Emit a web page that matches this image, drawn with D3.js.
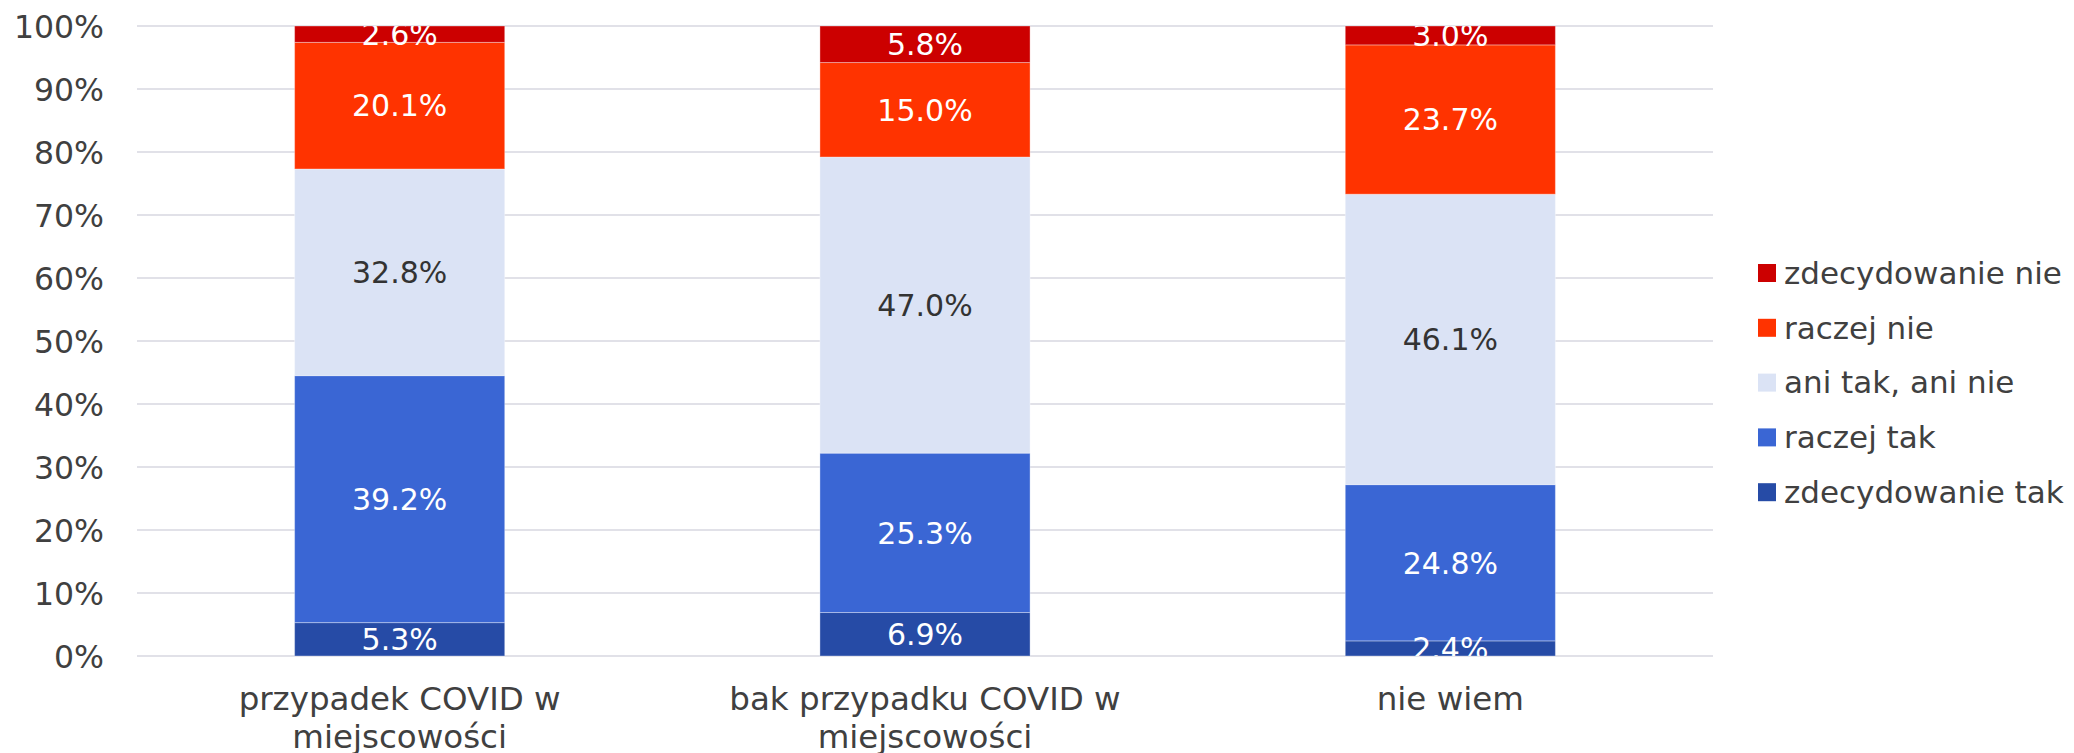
<!DOCTYPE html>
<html><head><meta charset="utf-8">
<script src="https://cdn.jsdelivr.net/npm/d3@7"></script>
<style>html,body{margin:0;padding:0;background:#fff;}svg{display:block;}</style>
</head><body>
<svg id="chart" width="2074" height="753"></svg>
<script>
const categories = ["przypadek COVID w miejscowości", "bak przypadku COVID w miejscowości", "nie wiem"];
const categoryLines = [["przypadek COVID w", "miejscowości"], ["bak przypadku COVID w", "miejscowości"], ["nie wiem"]];
const seriesNames = ["zdecydowanie tak", "raczej tak", "ani tak, ani nie", "raczej nie", "zdecydowanie nie"];
const zdecydowanieTak = [5.3, 6.9, 2.4];
const raczejTak = [39.2, 25.3, 24.8];
const aniTakAniNie = [32.8, 47.0, 46.1];
const raczejNie = [20.1, 15.0, 23.7];
const zdecydowanieNie = [2.6, 5.8, 3.0];
const seriesValues = [zdecydowanieTak, raczejTak, aniTakAniNie, raczejNie, zdecydowanieNie];
const yTicks = [0, 10, 20, 30, 40, 50, 60, 70, 80, 90, 100];

const colors = ["#264BA6", "#3A66D4", "#DBE3F5", "#FF3300", "#CC0000"];
const labelColors = ["#ffffff", "#ffffff", "#333333", "#ffffff", "#ffffff"];

const svg = d3.select("#chart");
const plotLeft = 137, plotRight = 1713, plotTop = 26, plotBottom = 656;
const fontFamily = "'DejaVu Sans', Verdana, sans-serif";

const x = d3.scaleBand().domain(categories).range([plotLeft, plotRight]).paddingInner(0.6).paddingOuter(0.3);
const y = d3.scaleLinear().domain([0, 100]).range([plotBottom, plotTop]);

// grid
svg.append("g").selectAll("line").data(yTicks).join("line")
  .attr("x1", plotLeft).attr("x2", plotRight)
  .attr("y1", d => y(d)).attr("y2", d => y(d))
  .attr("stroke", "#E1E1E8").attr("stroke-width", 2);

// y axis labels
const yAxis = d3.axisLeft(y).tickValues(yTicks).tickFormat(d => d + "%").tickSize(0).tickPadding(0);
const ya = svg.append("g").attr("transform", `translate(104,0)`).call(yAxis);
ya.select(".domain").remove();
ya.selectAll("text").attr("font-size", 31.5).attr("font-family", fontFamily).attr("fill", "#404040").attr("dy", "0.35em");

// stack data
const table = categories.map((c, i) => {
  const o = { cat: c };
  seriesNames.forEach((s, j) => o[s] = seriesValues[j][i]);
  return o;
});
const stack = d3.stack().keys(seriesNames)(table);

svg.append("defs").append("clipPath").attr("id", "plotclip")
  .append("rect").attr("x", plotLeft).attr("y", plotTop).attr("width", plotRight - plotLeft).attr("height", plotBottom - plotTop);

const groups = svg.append("g").selectAll("g").data(stack).join("g");
groups.selectAll("rect").data((d, j) => d.map(p => ({ p, j }))).join("rect")
  .attr("x", d => x(d.p.data.cat))
  .attr("width", x.bandwidth())
  .attr("y", d => y(d.p[1]))
  .attr("height", d => y(d.p[0]) - y(d.p[1]))
  .attr("fill", d => colors[d.j])
  .attr("stroke", "rgba(255,255,255,0.35)").attr("stroke-width", 1);

const labels = svg.append("g").attr("clip-path", "url(#plotclip)");
stack.forEach((layer, j) => {
  labels.selectAll(null).data(layer).join("text")
    .attr("x", d => x(d.data.cat) + x.bandwidth() / 2)
    .attr("y", d => (y(d[0]) + y(d[1])) / 2)
    .attr("dy", "0.36em")
    .attr("text-anchor", "middle")
    .attr("font-size", 30).attr("font-family", fontFamily)
    .attr("fill", labelColors[j])
    .text(d => (d[1] - d[0]).toFixed(1) + "%");
});

// x labels
const xl = svg.append("g").selectAll("text").data(categories).join("text")
  .attr("x", d => x(d) + x.bandwidth() / 2)
  .attr("y", 710)
  .attr("text-anchor", "middle")
  .attr("font-size", 32.5).attr("font-family", fontFamily).attr("fill", "#404040");
xl.each(function (d, i) {
  d3.select(this).selectAll("tspan").data(categoryLines[i]).join("tspan")
    .attr("x", x(d) + x.bandwidth() / 2)
    .attr("dy", (t, k) => k === 0 ? 0 : 38)
    .text(t => t);
});

// legend (top to bottom: reversed)
const legendOrder = seriesNames.map((s, j) => j).reverse();
const lg = svg.append("g").selectAll("g").data(legendOrder).join("g")
  .attr("transform", (j, k) => `translate(1758, ${273 + k * 54.8})`);
lg.append("rect").attr("x", 0).attr("y", -9).attr("width", 18).attr("height", 18).attr("fill", j => colors[j]);
lg.append("text").attr("x", 26).attr("y", 0).attr("dy", "0.35em")
  .attr("font-size", 31).attr("font-family", fontFamily).attr("fill", "#404040")
  .text(j => seriesNames[j]);
</script>
</body></html>
